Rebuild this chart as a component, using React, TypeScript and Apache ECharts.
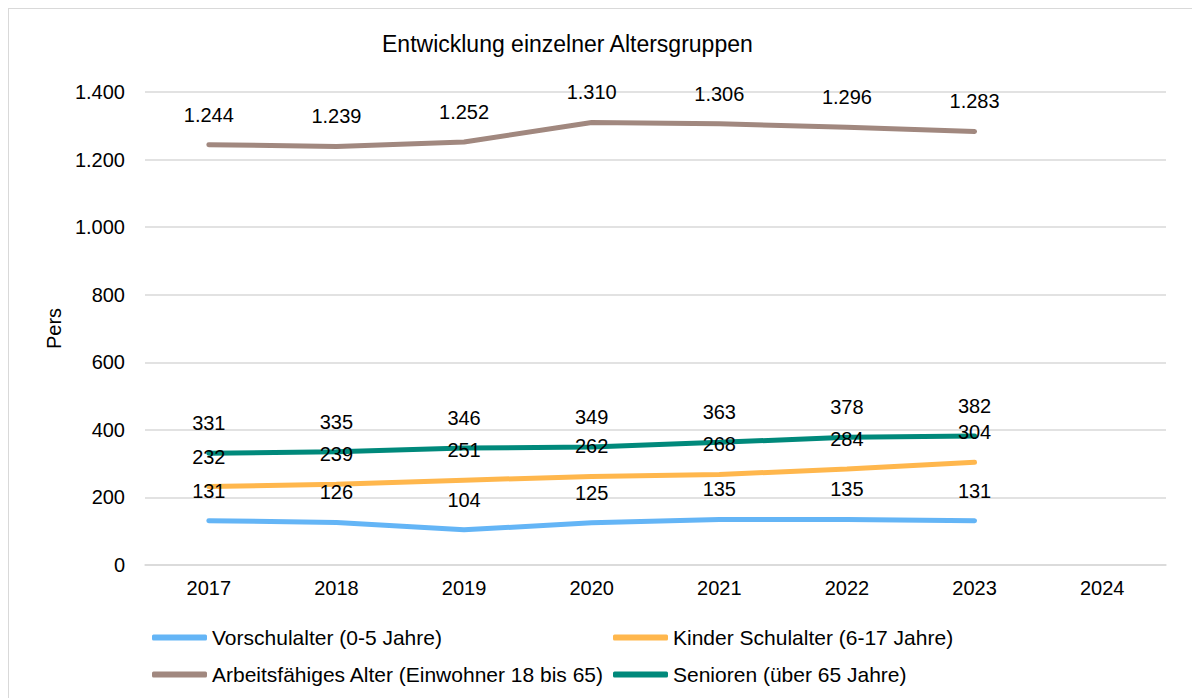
import React, { useEffect, useRef } from "react";
import * as echarts from "echarts";

const categories = ["2017", "2018", "2019", "2020", "2021", "2022", "2023", "2024"];
const vorschul = [131, 126, 104, 125, 135, 135, 131];
const kinder = [232, 239, 251, 262, 268, 284, 304];
const arbeits = [1244, 1239, 1252, 1310, 1306, 1296, 1283];
const senioren = [331, 335, 346, 349, 363, 378, 382];
const seriesNames = [
  "Vorschulalter (0-5 Jahre)",
  "Kinder Schulalter (6-17 Jahre)",
  "Arbeitsfähiges Alter (Einwohner 18 bis 65)",
  "Senioren (über 65 Jahre)",
];
const colors = ["#64b5f6", "#ffb74d", "#a1887f", "#00897b"];

const FONT = "'Liberation Sans', Arial, sans-serif";

const fmt = (v: number) => String(v).replace(/\B(?=(\d{3})+(?!\d))/g, ".");

export default function App() {
  const ref = useRef<HTMLDivElement>(null);
  useEffect(() => {
    if (!ref.current) return;
    const chart = echarts.init(ref.current, undefined, { renderer: "svg" });
    const data = [vorschul, kinder, arbeits, senioren];
    chart.setOption({
      animation: false,
      backgroundColor: "#ffffff",
      title: {
        text: "Entwicklung einzelner Altersgruppen",
        left: 373,
        top: 23,
        padding: 0,
        textStyle: { fontFamily: FONT, fontSize: 23, fontWeight: "normal", color: "#000" },
      },
      legend: [
        {
          data: [seriesNames[0], seriesNames[2]],
          orient: "vertical",
          left: 143,
          top: 618,
          padding: 0,
          itemGap: 16,
          itemWidth: 55,
          itemHeight: 6,
          icon: "roundRect",
          textStyle: { fontFamily: FONT, fontSize: 21, color: "#000" },
        },
        {
          data: [seriesNames[1], seriesNames[3]],
          orient: "vertical",
          left: 604,
          top: 618,
          padding: 0,
          itemGap: 16,
          itemWidth: 55,
          itemHeight: 6,
          icon: "roundRect",
          textStyle: { fontFamily: FONT, fontSize: 21, color: "#000" },
        },
      ],
      grid: { left: 136, right: 33, top: 83, bottom: 144, containLabel: false },
      xAxis: {
        type: "category",
        data: categories,
        boundaryGap: true,
        axisLine: { lineStyle: { color: "#d9d9d9", width: 1.5 } },
        axisTick: { show: false },
        axisLabel: { fontFamily: FONT, fontSize: 20, color: "#000", margin: 13 },
      },
      yAxis: {
        type: "value",
        min: 0,
        max: 1400,
        interval: 200,
        name: "Pers",
        nameLocation: "middle",
        nameRotate: 90,
        nameGap: 78,
        nameTextStyle: { fontFamily: FONT, fontSize: 20, color: "#000" },
        axisLine: { show: false },
        axisTick: { show: false },
        splitLine: { lineStyle: { color: "#d9d9d9", width: 1.5 } },
        axisLabel: {
          fontFamily: FONT,
          fontSize: 20,
          color: "#000",
          margin: 20,
          formatter: (v: number) => fmt(v),
        },
      },
      series: data.map((d, i) => ({
        name: seriesNames[i],
        type: "line",
        data: d,
        color: colors[i],
        symbol: "circle",
        symbolSize: 0.1,
        showSymbol: true,
        lineStyle: { width: 5, color: colors[i], cap: "round" },
        itemStyle: { color: colors[i] },
        label: {
          show: true,
          position: "top",
          distance: 20,
          fontFamily: FONT,
          fontSize: 20,
          color: "#000",
          formatter: (p: any) => fmt(p.value),
        },
      })),
    });
    return () => chart.dispose();
  }, []);
  return (
    <div style={{ border: "1px solid #d9d9d9", width: 1190, height: 700 }}>
      <div ref={ref} style={{ width: 1190, height: 700 }} />
    </div>
  );
}
